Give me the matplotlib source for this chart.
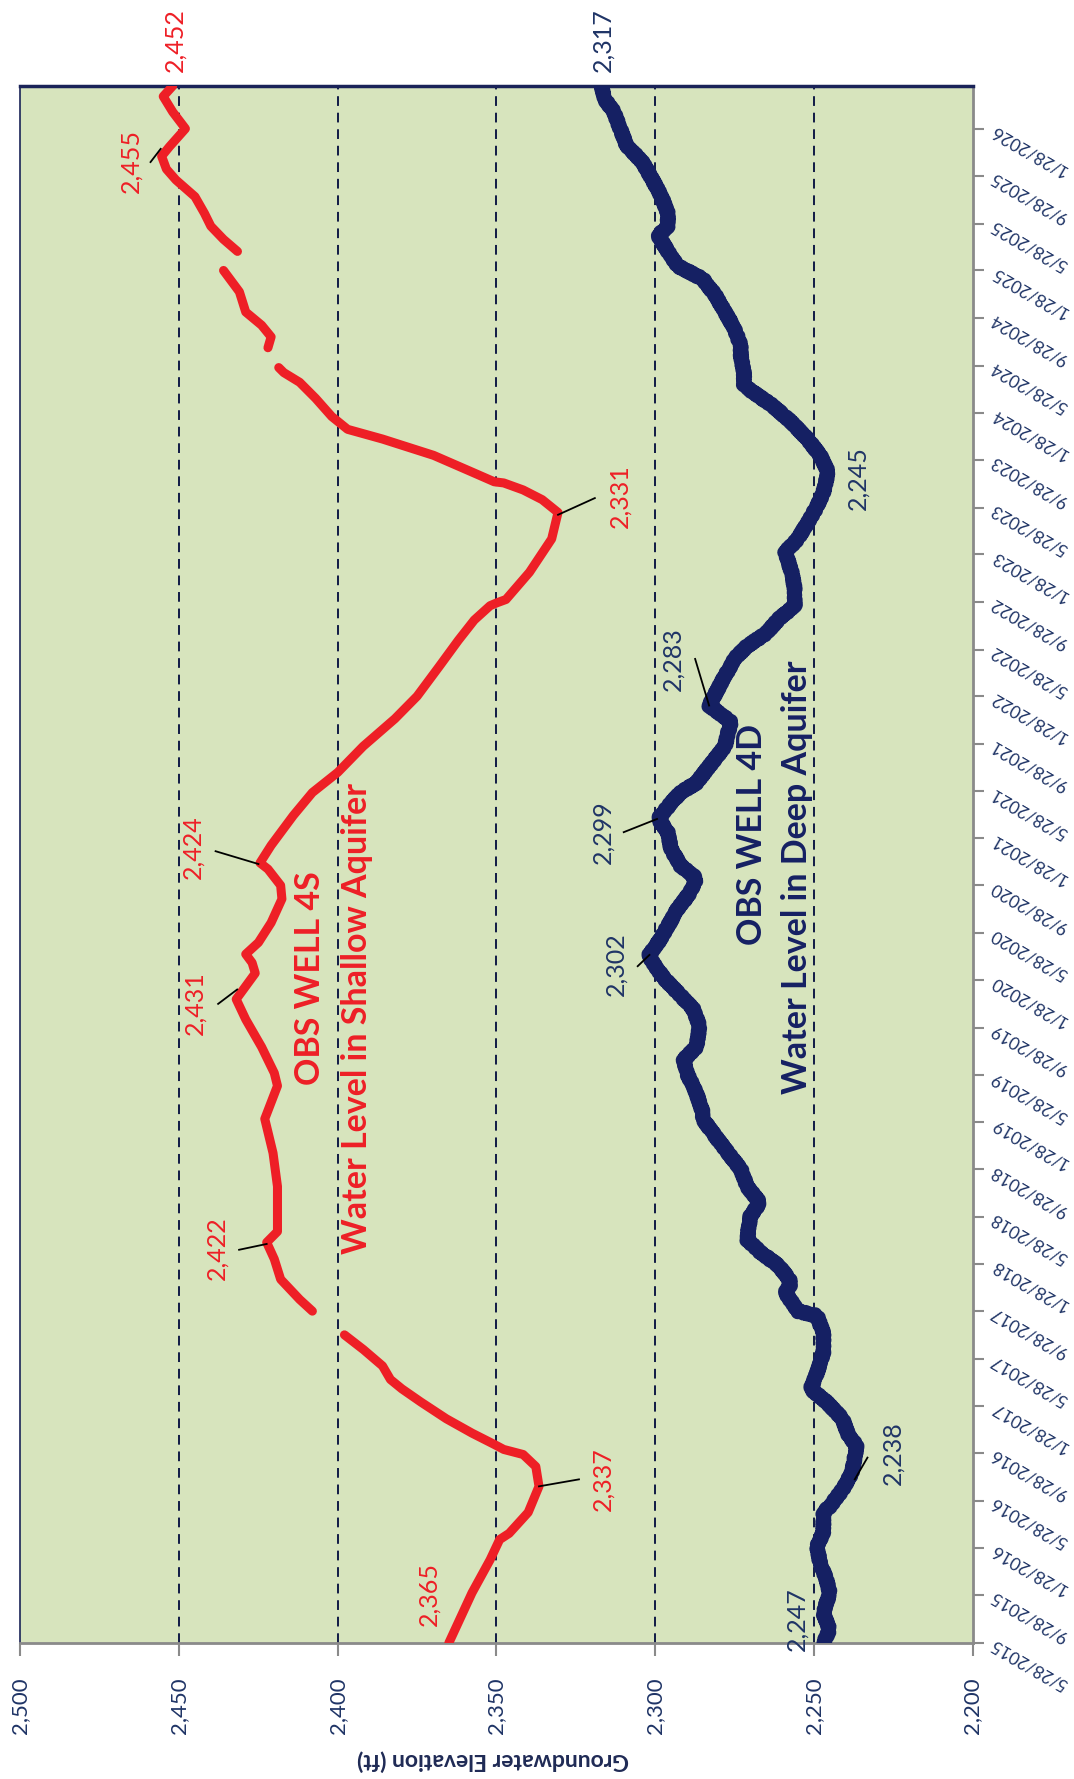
import matplotlib
matplotlib.use("Agg")
import matplotlib.pyplot as plt
import matplotlib.transforms as mtransforms
import numpy as np
import pandas as pd

# ---------------- data ----------------
shallow_dates = [
    "2015-05-28", "2015-10-04", "2015-12-28", "2016-02-18", "2016-03-05", "2016-04-28",
    "2016-07-04", "2016-08-24", "2016-09-24", "2016-10-07", "2016-10-20", "2016-11-18",
    "2016-12-25", "2017-02-06", "2017-03-12", "2017-04-05", "2017-05-10", "2017-06-21",
    "2017-07-29", "2017-08-28",
    "2017-09-28", "2017-10-28", "2017-12-19", "2018-02-09", "2018-03-24", "2018-04-21",
    "2018-08-15", "2018-11-09", "2019-02-05", "2019-05-01", "2019-06-03", "2019-08-09",
    "2019-10-19", "2019-12-10", "2020-02-15", "2020-03-13", "2020-04-04", "2020-05-04",
    "2020-06-24", "2020-08-24", "2020-09-28", "2020-11-09", "2020-11-25", "2021-01-09",
    "2021-03-27", "2021-05-25", "2021-07-16", "2021-09-21", "2021-12-01", "2022-01-28",
    "2022-04-15", "2022-06-21", "2022-08-12", "2022-09-18", "2022-09-25", "2022-10-04",
    "2022-12-13", "2023-03-09", "2023-05-16", "2023-06-18", "2023-07-13", "2023-07-31",
    "2023-08-03", "2023-08-28", "2023-10-10", "2023-11-21", "2023-12-16", "2024-01-18",
    "2024-03-05", "2024-04-15", "2024-05-10", "2024-05-23",
    "2024-06-15",
    "2024-07-13", "2024-08-10", "2024-09-09", "2024-10-13", "2024-12-04", "2025-01-06",
    "2025-01-28",
    "2025-02-20",
    "2025-03-18", "2025-04-18", "2025-05-22", "2025-06-24", "2025-08-06", "2025-09-18",
    "2025-10-16", "2025-11-18", "2025-12-13", "2026-01-28", "2026-03-12", "2026-04-21",
    "2026-05-18",
]
shallow_elev = [
    2365, 2357.7, 2352, 2349, 2346, 2340,
    2336.6, 2337.6, 2341.6, 2347.7, 2350.7, 2357.7,
    2365.8, 2373.8, 2379.8, 2383.4, 2385.9, 2391.9,
    2397.9, np.nan,
    2408, 2412, 2418, 2420, 2422.4, 2419,
    2419, 2420.4, 2423, 2419, 2420, 2424,
    2429, 2432, 2426, 2427, 2429, 2425,
    2421, 2417.6, 2418, 2422, 2424.5, 2421,
    2414, 2408, 2400, 2392, 2382, 2375,
    2368, 2362, 2357, 2352, 2350, 2347,
    2339.6, 2332.6, 2330.6, 2335.6, 2341.6, 2347.7,
    2350.7, 2357.7, 2369.8, 2385.9, 2396.9, 2401.9,
    2407, 2412, 2417, 2418.6,
    np.nan,
    2422, 2421, 2424, 2429, 2431, 2434,
    2436,
    np.nan,
    2431.6, 2436, 2440, 2442, 2445, 2451,
    2454, 2455.5, 2453, 2448, 2452, 2455,
    2452,
]

deep_dates = [
    "2015-05-28", "2015-07-01", "2015-08-12", "2015-10-04", "2015-11-07", "2015-12-19",
    "2016-01-31", "2016-03-08", "2016-04-28", "2016-05-13", "2016-06-25", "2016-08-08",
    "2016-09-21", "2016-10-16", "2016-11-12", "2016-12-25", "2017-02-06", "2017-03-12",
    "2017-04-22", "2017-06-12", "2017-08-03", "2017-09-16", "2017-09-28", "2017-11-15",
    "2017-12-10", "2018-01-22", "2018-02-28", "2018-03-31", "2018-05-31", "2018-07-04",
    "2018-08-15", "2018-09-28", "2018-11-09", "2018-12-22", "2019-02-05", "2019-02-22",
    "2019-04-12", "2019-06-03", "2019-07-07", "2019-08-09", "2019-10-01", "2019-11-15",
    "2019-12-28", "2020-01-31", "2020-03-04", "2020-03-31", "2020-05-04", "2020-06-15",
    "2020-07-28", "2020-09-09", "2020-10-16", "2020-11-18", "2020-12-31", "2021-02-12",
    "2021-03-18", "2021-04-28", "2021-05-25", "2021-06-19", "2021-07-31", "2021-09-21",
    "2021-10-28", "2021-11-22", "2022-01-04", "2022-03-06", "2022-05-04", "2022-06-06",
    "2022-07-09", "2022-08-15", "2022-09-18", "2022-10-31", "2022-12-13", "2023-02-03",
    "2023-03-09", "2023-04-19", "2023-05-31", "2023-07-07", "2023-08-28", "2023-10-10",
    "2023-11-21", "2024-01-03", "2024-02-15", "2024-04-06", "2024-05-10", "2024-06-21",
    "2024-07-18", "2024-08-31", "2024-10-13", "2024-11-25", "2025-01-06", "2025-02-09",
    "2025-03-18", "2025-04-28", "2025-05-22", "2025-06-24", "2025-08-06", "2025-09-21",
    "2025-11-03", "2025-12-16", "2026-01-28", "2026-03-12", "2026-04-15", "2026-05-18",
]
deep_elev = [
    2247, 2245, 2247, 2245, 2246, 2248,
    2249, 2247, 2247, 2245, 2241, 2238,
    2237, 2236.5, 2239, 2241, 2246, 2251,
    2249, 2247, 2247, 2249, 2255, 2259,
    2257, 2261, 2267, 2271, 2270, 2267,
    2271, 2273, 2277, 2281, 2285, 2285,
    2287, 2290, 2291, 2287, 2286, 2288,
    2293, 2297, 2300, 2302, 2299, 2296,
    2293, 2289, 2287, 2292, 2295, 2296,
    2299, 2295, 2292, 2287, 2283, 2278,
    2277, 2276, 2283, 2279, 2275, 2271,
    2265, 2261, 2256, 2256, 2257, 2259,
    2255, 2252, 2249, 2247, 2245.5, 2248,
    2252, 2257, 2263, 2272, 2272, 2273,
    2273, 2275, 2278, 2281, 2285, 2293,
    2296, 2299, 2296, 2296, 2298, 2301,
    2304, 2309, 2311, 2313, 2316, 2317,
]

elev_ticks = [2500, 2450, 2400, 2350, 2300, 2250, 2200]
elev_tick_labels = ["2,500", "2,450", "2,400", "2,350", "2,300", "2,250", "2,200"]
grid_levels = [2450, 2400, 2350, 2300, 2250]
date_tick_start = "2015-05-28"
n_date_ticks = 33
date_axis_end = "2026-05-18"

# value labels: (text, elevation, date, series)
value_labels = [
    ("2,365", 2371.4, "2015-10-01", "s"),
    ("2,337", 2316.5, "2016-07-22", "s"),
    ("2,422", 2438.1, "2018-03-10", "s"),
    ("2,431", 2445.1, "2019-12-01", "s"),
    ("2,424", 2445.7, "2021-01-04", "s"),
    ("2,331", 2311.1, "2023-06-28", "s"),
    ("2,455", 2465.2, "2025-11-06", "s"),
    ("2,247", 2255.2, "2015-07-28", "d"),
    ("2,238", 2225.1, "2016-09-28", "d"),
    ("2,302", 2312.5, "2020-03-10", "d"),
    ("2,299", 2316.5, "2021-02-12", "d"),
    ("2,283", 2294.4, "2022-05-04", "d"),
    ("2,245", 2236.1, "2023-08-13", "d"),
]
# leader lines: (elev1, date1, elev2, date2)
leaders = [
    (2336.6, "2016-07-04", 2324.0, "2016-07-22"),
    (2422.4, "2018-03-20", 2431.1, "2018-03-05"),
    (2431.7, "2020-01-04", 2437.7, "2019-11-28"),
    (2425.0, "2020-11-22", 2438.5, "2020-12-25"),
    (2330.6, "2023-05-10", 2319.0, "2023-06-22"),
    (2459.0, "2025-11-03", 2455.8, "2025-12-07"),
    (2237.1, "2016-07-22", 2233.1, "2016-09-16"),
    (2301.8, "2020-04-02", 2305.5, "2020-03-04"),
    (2299.4, "2021-03-18", 2309.9, "2021-02-12"),
    (2287.4, "2022-05-04", 2283.0, "2022-01-04"),
]
end_labels = [("2,452", 2451.4, "s"), ("2,317", 2316.5, "d")]
well_texts = [
    ("OBS WELL 4S", 2408.8, "2020-02-03", "s"),
    ("Water Level in Shallow Aquifer", 2393.9, "2019-10-22", "s"),
    ("OBS WELL 4D", 2269.5, "2021-02-06", "d"),
    ("Water Level in Deep Aquifer", 2255.3, "2020-10-19", "d"),
]

# ---------------- style ----------------
RED = "#EE1F26"
NAVY = "#152063"
NAVY_TXT = "#1F3466"
BG = "#D7E4BD"
GRAY = "#8A8A8A"
FONT = ["Lato", "DejaVu Sans"]
plt.rcParams["font.family"] = FONT

fig = plt.figure(figsize=(10.74, 17.79), dpi=100)
fig.patch.set_facecolor("white")
ax = fig.add_axes([0.019, 0.0765, 0.8865, 0.8752])
ax.set_facecolor(BG)

sd = pd.to_datetime(shallow_dates)
dd = pd.to_datetime(deep_dates)

for g in grid_levels:
    ax.axvline(g, color="#101A45", lw=1.4, ls=(0, (5, 3.5)), zorder=1)

deep_line, = ax.plot(deep_elev, dd, color=NAVY, lw=10, solid_capstyle="round",
                     solid_joinstyle="round", zorder=3)
deep_line.set_sketch_params(scale=1.2, length=5, randomness=2)
ax.plot(shallow_elev, sd, color=RED, lw=6.5, solid_capstyle="round",
        solid_joinstyle="round", zorder=4)

ax.set_xlim(2500, 2200)
ax.set_ylim(pd.Timestamp(date_tick_start), pd.Timestamp(date_axis_end))

ax.set_xticks(elev_ticks)
ax.set_xticklabels(elev_tick_labels, rotation=90, fontsize=16, color=NAVY_TXT)
ax.tick_params(axis="x", direction="out", length=9, width=1.5, color=GRAY, pad=16)

date_ticks = pd.date_range(date_tick_start, periods=n_date_ticks, freq=pd.DateOffset(months=4))
ax.yaxis.tick_right()
ax.set_yticks(date_ticks)
ax.set_yticklabels([f"{d.month}/{d.day}/{d.year}" for d in date_ticks],
                   fontsize=12.5, color=NAVY_TXT)
ax.tick_params(axis="y", direction="out", length=8, width=1.5, color=GRAY, pad=6)
for lab in ax.get_yticklabels():
    lab.set_rotation(150)
    lab.set_rotation_mode("anchor")
    lab.set_ha("right")
    lab.set_va("center")

ax.spines["top"].set_color("#1A2358")
ax.spines["top"].set_linewidth(2.5)
ax.spines["left"].set_color("#1A2358")
ax.spines["left"].set_linewidth(1.2)
ax.spines["bottom"].set_color(GRAY)
ax.spines["bottom"].set_linewidth(2)
ax.spines["right"].set_color(GRAY)
ax.spines["right"].set_linewidth(2)

# axis title (upside-down because the whole chart is turned)
fig.text(0.459, 1 - 1761 / 1779, "Groundwater Elevation (ft)", rotation=180,
         ha="center", va="center", fontsize=16.5, fontweight="bold", color="#1F2A55")

# value labels
for txt, e, d, s in value_labels:
    ax.text(e, pd.Timestamp(d), txt, rotation=90, ha="center", va="center",
            fontsize=18, color=RED if s == "s" else NAVY_TXT, zorder=5)
for e1, d1, e2, d2 in leaders:
    ax.plot([e1, e2], [pd.Timestamp(d1), pd.Timestamp(d2)], color="black", lw=1.3, zorder=5)

trans = mtransforms.blended_transform_factory(ax.transData, ax.transAxes)
for txt, e, s in end_labels:
    ax.text(e, 1.0295, txt, transform=trans, rotation=90, ha="center", va="center",
            fontsize=18, color=RED if s == "s" else NAVY_TXT, clip_on=False)

for txt, e, d, s in well_texts:
    ax.text(e, pd.Timestamp(d), txt, rotation=90, ha="center", va="center",
            fontsize=24.5, fontweight="bold", color=RED if s == "s" else NAVY, zorder=5)

fig.savefig("out.png", dpi=100, facecolor="white")
